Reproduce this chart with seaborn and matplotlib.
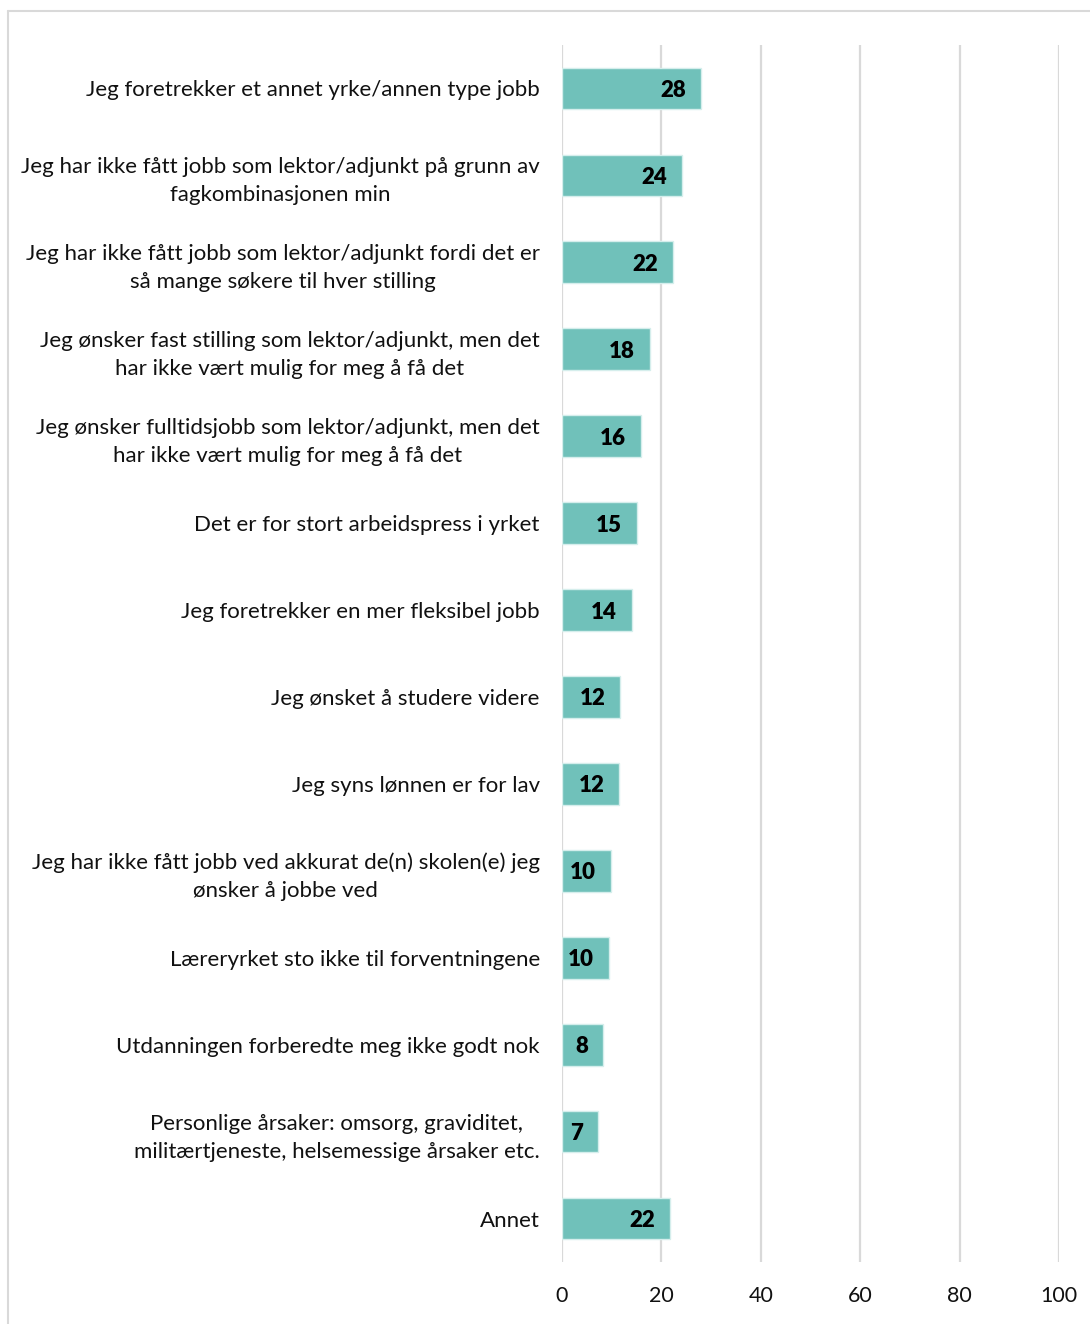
import matplotlib
matplotlib.use("Agg")
import matplotlib.pyplot as plt
import seaborn as sns
import pandas as pd
from matplotlib.lines import Line2D

categories = [
    "Jeg foretrekker et annet yrke/annen type jobb",
    "Jeg har ikke fått jobb som lektor/adjunkt på grunn av\nfagkombinasjonen min",
    "Jeg har ikke fått jobb som lektor/adjunkt fordi det er\nså mange søkere til hver stilling",
    "Jeg ønsker fast stilling som lektor/adjunkt, men det\nhar ikke vært mulig for meg å få det",
    "Jeg ønsker fulltidsjobb som lektor/adjunkt, men det\nhar ikke vært mulig for meg å få det",
    "Det er for stort arbeidspress i yrket",
    "Jeg foretrekker en mer fleksibel jobb",
    "Jeg ønsket å studere videre",
    "Jeg syns lønnen er for lav",
    "Jeg har ikke fått jobb ved akkurat de(n) skolen(e) jeg\nønsker å jobbe ved",
    "Læreryrket sto ikke til forventningene",
    "Utdanningen forberedte meg ikke godt nok",
    "Personlige årsaker: omsorg, graviditet,\nmilitærtjeneste, helsemessige årsaker etc.",
    "Annet",
]
values = [28.0, 24.1, 22.3, 17.7, 15.9, 15.1, 14.1, 11.7, 11.5, 9.9, 9.5, 8.2, 7.2, 21.7]
xticks = [0, 20, 40, 60, 80, 100]

df = pd.DataFrame({"cat": categories, "val": values})

sns.set_theme(style="white")
plt.rcParams["font.family"] = ["Lato", "DejaVu Sans"]

fig = plt.figure(figsize=(10.9, 13.24), dpi=100)
ax = fig.add_axes([562/1090, 1-1262/1324, 497/1090, (1262-45)/1324])

sns.barplot(data=df, x="val", y="cat", orient="h", color="#70C1BA",
            saturation=1, width=0.48, edgecolor="#D5EEEC", linewidth=1, ax=ax, zorder=3)

ax.set_xlim(0, 100)
ax.set_ylim(13.5, -0.5)
ax.set_xticks(xticks)
ax.set_xticklabels([str(t) for t in xticks], fontsize=15.5, color="#111111")
ax.set_xlabel("")
ax.set_ylabel("")
ax.tick_params(axis="y", length=0, pad=16, labelsize=16, labelcolor="#111111")
ax.tick_params(axis="x", length=0, pad=17)
for lbl in ax.get_yticklabels():
    lbl.set_horizontalalignment("right")
    lbl.set_multialignment("center")
    lbl.set_linespacing(1.5)
for s in ax.spines.values():
    s.set_visible(False)
ax.grid(axis="x", color="#D9D9D9", linewidth=1.6, zorder=0)
ax.grid(axis="y", visible=False)
ax.set_axisbelow(True)

for i, v in enumerate(values):
    ax.text(v - 3.0, i, f"{round(v):d}", ha="right", va="center_baseline",
            fontsize=16, fontweight="heavy", color="black", zorder=4)

fig.add_artist(Line2D([8/1090, 1.0], [1-11/1324, 1-11/1324], transform=fig.transFigure,
                      color="#D9D9D9", linewidth=1.5))
fig.add_artist(Line2D([8/1090, 8/1090], [1-11/1324, 0.0], transform=fig.transFigure,
                      color="#D9D9D9", linewidth=1.5))

fig.savefig("out.png", dpi=100)
